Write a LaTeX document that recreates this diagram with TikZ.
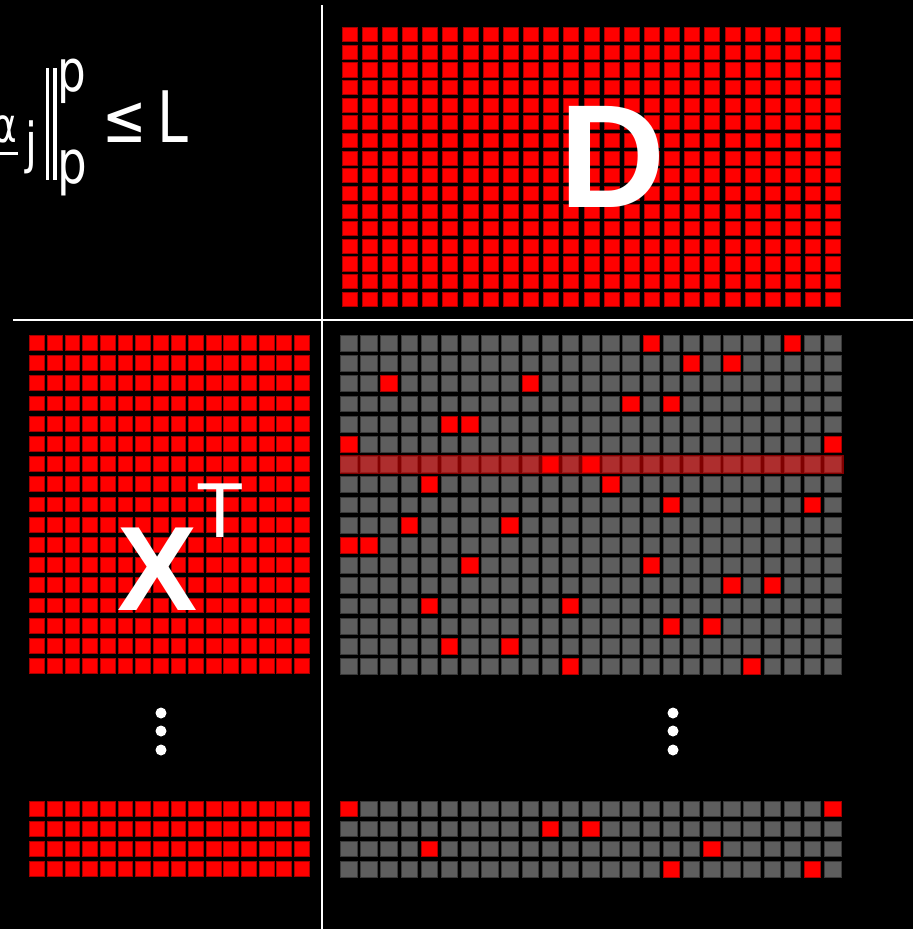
\documentclass[tikz,border=0pt]{standalone}
\usepackage{fontspec}
\setmainfont{DejaVu Sans}
\newfontfamily\labelfont{Liberation Sans}
\usepackage{graphicx}
\definecolor{cellred}{RGB}{255,0,0}
\definecolor{cellredb}{RGB}{168,0,0}
\definecolor{cellgray}{RGB}{94,94,94}
\definecolor{cellgrayb}{RGB}{58,58,58}
\tikzset{
  redcell/.style={fill=cellred, draw=cellredb, line width=1pt},
  graycell/.style={fill=cellgray, draw=cellgrayb, line width=1pt},
  divider/.style={draw=white, line width=2.8pt},
  dotmark/.style={fill=white},
  bigletter/.style={text=white, inner sep=0pt, anchor=base, font=\labelfont\bfseries\fontsize{#1}{#1}\selectfont},
  thinletter/.style={text=white, inner sep=0pt, anchor=base, font=\labelfont\fontsize{#1}{#1}\selectfont},
  formula/.style={text=white, inner sep=0pt, anchor=base, font=\fontsize{#1}{#1}\selectfont},
  band/.style={fill=red, opacity=0.5}
}
\begin{document}
\begin{tikzpicture}[x=1pt,y=-1pt]
\fill[black] (0,0) rectangle (913,929);
\useasboundingbox (0,0) rectangle (913,929);
\clip (0,0) rectangle (913,929);

% ---------- D grid (25 x 16)
\foreach \c in {0,...,24}{\foreach \r in {0,...,15}{
  \path[redcell] ({342.2+20.15*\c},{27.5+17.65*\r}) rectangle ++(15,14.2);
}}

% ---------- X^T grid (16 x 17) and bottom (16 x 4)
\foreach \c in {0,...,15}{
  \foreach \r in {0,...,16}{
    \path[redcell] ({29.8+17.65*\c},{335.5+20.2*\r}) rectangle ++(14.8,14.8);
  }
  \foreach \r in {0,...,3}{
    \path[redcell] ({29.8+17.65*\c},{801.2+20.2*\r}) rectangle ++(14.8,14.8);
  }
}

% ---------- sparse grid (25 x 17) and bottom (25 x 4)
\foreach \c in {0,...,24}{
  \foreach \r in {0,...,16}{
    \path[graycell] ({340.5+20.17*\c},{335.5+20.2*\r}) rectangle ++(16.5,15.8);
  }
  \foreach \r in {0,...,3}{
    \path[graycell] ({340.5+20.17*\c},{801.2+20.2*\r}) rectangle ++(16.5,15.2);
  }
}
\foreach \r/\c in {0/15,0/22,1/17,1/19,2/2,2/9,3/14,3/16,4/5,4/6,5/0,5/24,6/10,6/12,7/4,7/13,
  8/16,8/23,9/3,9/8,10/0,10/1,11/6,11/15,12/19,12/21,13/4,13/11,14/16,14/18,15/5,15/8,16/11,16/20}{
  \path[redcell] ({340.5+20.17*\c},{335.5+20.2*\r}) rectangle ++(16.5,15.8);
}
\foreach \r/\c in {0/0,0/24,1/10,1/12,2/4,2/18,3/16,3/23}{
  \path[redcell] ({340.5+20.17*\c},{801.2+20.2*\r}) rectangle ++(16.5,15.2);
}
% highlighted row
\fill[band] (339.5,455) rectangle (843.5,473.5);

% ---------- dividers
\draw[divider] (13,320) -- (913,320);
\draw[divider] (322,5) -- (322,929);

% ---------- vertical ellipses
\foreach \y in {713,731,750}{
  \fill[dotmark] (161,\y) circle (5.5);
  \fill[dotmark] (673,\y) circle (5.5);
}

% ---------- labels
\node[bigletter=147] (dlabel) at (612.5,207) {D};
\node[bigletter=120] (xlabel) at (157.5,610) {X};
\node[thinletter=78] (tlabel) at (220,537) {T};

% ---------- formula  ||alpha_j||_p^p <= L
\node[formula=48] (alpha) at (5,142) {\scalebox{0.78}[1]{α}};
\fill[white] (-5,151.5) rectangle (17.5,155);
\node[formula=55] (jsub) at (31,162) {\scalebox{0.78}[1]{j}};
\fill[white] (45.7,68) rectangle (49,180);
\fill[white] (53.3,68) rectangle (56.7,180);
\node[formula=58] (psup) at (72,91) {\scalebox{0.78}[1]{p}};
\node[formula=60] (psub) at (72,183) {\scalebox{0.78}[1]{p}};
\node[formula=68] (leq) at (125,142) {\scalebox{0.78}[1]{≤}};
\node[formula=71] (llabel) at (173,142) {\scalebox{0.78}[1]{L}};
\end{tikzpicture}
\end{document}
